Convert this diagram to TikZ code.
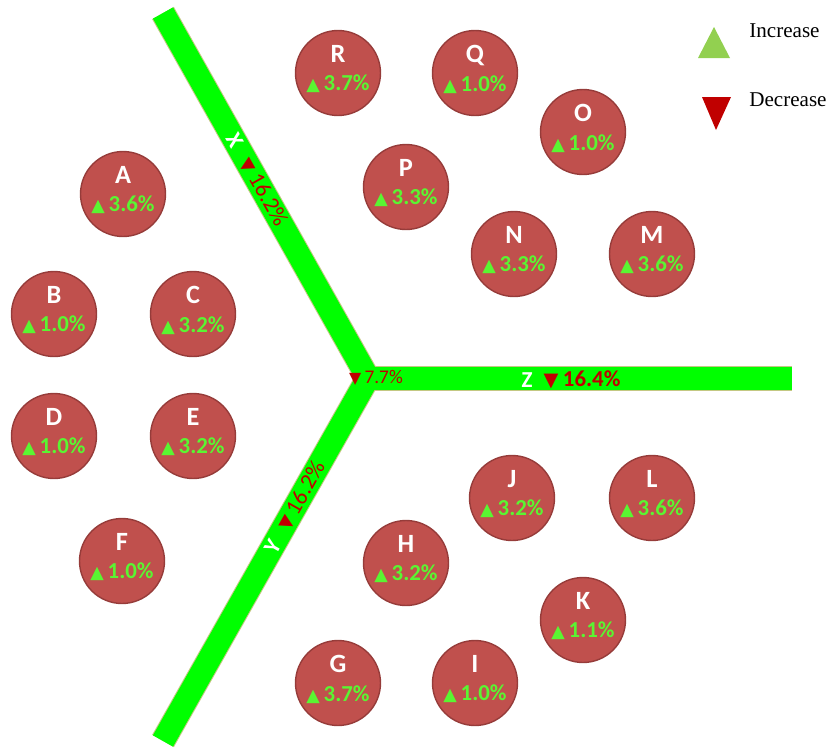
\documentclass[tikz,border=0pt]{standalone}
\usepackage{fontspec}
\setmainfont{Carlito}
\newfontfamily\symfont{DejaVu Sans}
\newfontfamily\legendfont{Liberation Serif}
\usetikzlibrary{positioning}

\definecolor{stationfill}{RGB}{192,80,77}
\definecolor{stationedge}{RGB}{150,60,58}
\definecolor{risegreen}{RGB}{90,245,50}
\definecolor{roadgreen}{RGB}{0,255,0}
\definecolor{roadedge}{RGB}{195,200,130}
\definecolor{dropred}{RGB}{192,0,0}
\definecolor{keygreen}{RGB}{146,208,80}

% small triangles inside the texts
\newcommand{\uptri}{{\symfont\fontsize{10}{10}\selectfont ▲}}
\newcommand{\downtri}[1]{{\symfont\fontsize{#1}{#1}\selectfont ▼}}
\newcommand{\rise}[1]{\textcolor{risegreen}{\fontsize{13}{13}\selectfont\uptri\,#1\%}\rule[-2mm]{0pt}{0pt}}

\begin{document}
\begin{tikzpicture}[
    x=0.02cm, y=-0.02cm,
    station/.style={circle, draw=stationedge, line width=0.8pt, fill=stationfill,
        minimum size=1.7cm, inner sep=0pt, align=center, text=white,
        font=\bfseries\fontsize{15}{15}\selectfont},
    road/.style={line width=0.46cm, draw=roadgreen},
    roadrim/.style={line width=0.5cm, draw=roadedge},
    roadname/.style={text=white, inner sep=0pt, font=\bfseries\fontsize{13}{13}\selectfont},
    roadval/.style={text=dropred, inner sep=0pt, font=\fontsize{13}{13}\selectfont}
]
    \useasboundingbox (0,0) rectangle (829,748);

    % Roads
    \coordinate (ctr) at (368,378);
    \coordinate (xend) at (163,13);
    \coordinate (yend) at (163,741);
    \coordinate (zend) at (792,378);
    \draw[roadrim] (xend) -- (ctr);
    \draw[roadrim] (yend) -- (ctr);
    \draw[roadrim] (ctr) -- (zend);
    \draw[road] (xend) -- (ctr);
    \draw[road] (yend) -- (ctr);
    \draw[road] ([xshift=-6]ctr) -- (zend);

    % Road labels
    \path (xend) -- (ctr)
        node[roadname, sloped, pos=0.35] (xname) {X}
        node[roadval, sloped, pos=0.49] (xval) {\downtri{10}\hspace{0.2em}16.2\%};
    \path (yend) -- (ctr)
        node[roadname, sloped, pos=0.535] (yname) {Y}
        node[roadval, sloped, pos=0.675] (yval) {\downtri{10}\hspace{0.2em}16.2\%};
    \node[roadname] (zname) at (527,380) {Z};
    \node[roadval, font=\bfseries\fontsize{13}{13}\selectfont] (zval) at (582,380) {\downtri{11}\hspace{0.2em}16.4\%};
    \node[roadval, font=\fontsize{11}{11}\selectfont] (cval) at (376,378) {\downtri{9}\,7.7\%};

    % Stations
    \node[station] (R) at (338,73) {R\\[1.4pt]\rise{3.7}};
    \node[station] (Q) at (475,73) {Q\\[1.4pt]\rise{1.0}};
    \node[station] (O) at (583,132) {O\\[1.4pt]\rise{1.0}};
    \node[station] (P) at (406,187) {P\\[1.4pt]\rise{3.3}};
    \node[station] (N) at (514,254) {N\\[1.4pt]\rise{3.3}};
    \node[station] (M) at (652,254) {M\\[1.4pt]\rise{3.6}};
    \node[station] (A) at (123,194) {A\\[1.4pt]\rise{3.6}};
    \node[station] (B) at (54,314) {B\\[1.4pt]\rise{1.0}};
    \node[station] (C) at (193,314) {C\\[1.4pt]\rise{3.2}};
    \node[station] (D) at (54,436) {D\\[1.4pt]\rise{1.0}};
    \node[station] (E) at (193,436) {E\\[1.4pt]\rise{3.2}};
    \node[station] (F) at (122,561) {F\\[1.4pt]\rise{1.0}};
    \node[station] (J) at (512,498) {J\\[1.4pt]\rise{3.2}};
    \node[station] (L) at (652,498) {L\\[1.4pt]\rise{3.6}};
    \node[station] (H) at (406,563) {H\\[1.4pt]\rise{3.2}};
    \node[station] (K) at (583,620) {K\\[1.4pt]\rise{1.1}};
    \node[station] (G) at (338,683) {G\\[1.4pt]\rise{3.7}};
    \node[station] (I) at (475,683) {I\\[1.4pt]\rise{1.0}};

    % Key
    \fill[keygreen] (698,58) -- (730,58) -- (714,27) -- cycle;
    \fill[dropred] (702,97) -- (731,97) -- (716,130) -- cycle;
    \node[anchor=west, inner sep=0pt, font=\legendfont\fontsize{12}{12}\selectfont] (up) at (749,31) {Increase};
    \node[anchor=west, inner sep=0pt, font=\legendfont\fontsize{12}{12}\selectfont] (down) at (749,100) {Decrease};
\end{tikzpicture}
\end{document}
